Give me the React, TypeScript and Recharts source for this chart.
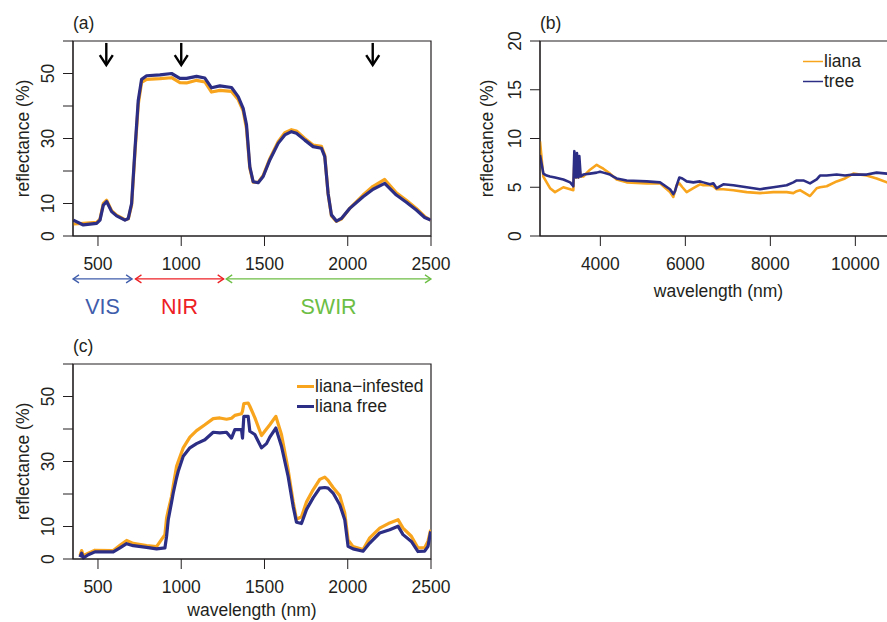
import React from 'react';
import {
  LineChart,
  Line,
  XAxis,
  YAxis,
  ReferenceArea,
  ReferenceLine,
  ReferenceDot,
  Legend,
} from 'recharts';

const FONT = "'Liberation Sans', Arial, Helvetica, sans-serif";
const INK = '#231f20';
const ORANGE = '#f8a51d';
const NAVY = '#2c2d84';
const FS = 17.5;

// (a) canopy spectra 350-2500 nm
const aWavelength = [352, 412, 492, 512, 532, 552, 582, 612, 662, 682, 702, 722, 742, 762, 792, 872, 942, 992, 1032, 1092, 1142, 1182, 1232, 1302, 1342, 1372, 1392, 1412, 1432, 1462, 1492, 1532, 1582, 1622, 1662, 1692, 1742, 1792, 1842, 1862, 1882, 1902, 1932, 1962, 2012, 2092, 2152, 2222, 2292, 2352, 2412, 2462, 2498];
const aLiana = [3.7, 3.9, 4.2, 5.2, 10.0, 11.0, 7.8, 6.4, 5.0, 5.3, 9.5, 25.5, 40.5, 47.3, 48.2, 48.4, 48.7, 47.2, 47.1, 47.9, 47.4, 44.3, 44.8, 44.5, 42.0, 38.5, 33.0, 20.8, 16.6, 16.5, 18.6, 23.8, 29.0, 31.8, 32.7, 32.3, 30.0, 28.0, 27.6, 24.8, 13.0, 6.2, 4.5, 5.2, 8.5, 12.6, 15.3, 17.4, 13.3, 11.0, 8.5, 6.0, 4.9];
const aTree = [4.9, 3.4, 3.9, 4.9, 9.5, 10.6, 7.5, 6.2, 4.9, 5.4, 10.0, 26.5, 41.8, 48.2, 49.3, 49.6, 50.0, 48.5, 48.5, 49.1, 48.6, 45.6, 46.2, 45.7, 42.9, 39.3, 34.2, 21.3, 16.7, 16.4, 18.3, 23.4, 28.5, 31.1, 32.1, 31.6, 29.5, 27.5, 27.0, 24.4, 13.1, 6.5, 4.6, 5.4, 8.5, 12.1, 14.4, 16.2, 12.6, 10.4, 8.0, 5.7, 4.9];
const aMarkedBands = [550, 1000, 2150];
const regionNames = ['VIS', 'NIR', 'SWIR'];
const regionStart = [350, 725, 1270];
const regionEnd = [705, 1255, 2500];
const regionColors = ['#3f5dab', '#ed2024', '#6cbe45'];

// (b) thermal spectra
const bWavelength = [2580, 2659, 2737, 2816, 2933, 3129, 3290, 3364, 3388, 3427, 3450, 3482, 3505, 3537, 3600, 3757, 3914, 3992, 4070, 4227, 4305, 4384, 4620, 5090, 5404, 5639, 5717, 5757, 5796, 5859, 5930, 6031, 6188, 6345, 6424, 6580, 6659, 6737, 6894, 7129, 7443, 7757, 8070, 8384, 8541, 8620, 8698, 8776, 8933, 9090, 9168, 9325, 9560, 9756, 9953, 10266, 10501, 10744, 10900];
const bLiana = [9.7, 6.1, 5.5, 4.9, 4.5, 5.0, 4.8, 4.7, 7.5, 6.0, 7.8, 6.0, 7.0, 6.1, 6.1, 6.8, 7.3, 7.1, 6.9, 6.4, 6.1, 5.8, 5.5, 5.4, 5.4, 4.5, 4.0, 4.6, 5.2, 5.4, 5.0, 4.5, 4.9, 5.3, 5.2, 5.2, 5.1, 4.8, 4.8, 4.7, 4.5, 4.4, 4.5, 4.5, 4.4, 4.6, 4.7, 4.5, 4.1, 4.9, 5.0, 5.1, 5.6, 5.9, 6.4, 6.2, 5.9, 5.5, 5.2];
const bTree = [8.3, 6.4, 6.2, 6.1, 6.0, 5.8, 5.5, 5.1, 8.7, 6.0, 8.5, 6.0, 8.2, 6.1, 6.3, 6.4, 6.5, 6.6, 6.5, 6.3, 6.1, 5.9, 5.7, 5.6, 5.5, 4.8, 4.3, 4.6, 5.2, 6.0, 5.9, 5.6, 5.5, 5.6, 5.5, 5.3, 5.4, 4.9, 5.3, 5.2, 5.0, 4.8, 5.0, 5.2, 5.5, 5.7, 5.7, 5.7, 5.4, 5.8, 6.2, 6.2, 6.3, 6.2, 6.3, 6.3, 6.5, 6.4, 6.4];

// (c) airborne spectra
const cWavelength = [392, 402, 412, 442, 482, 592, 632, 672, 712, 792, 852, 902, 912, 922, 942, 952, 972, 982, 1012, 1052, 1092, 1142, 1192, 1232, 1272, 1302, 1322, 1362, 1368, 1376, 1402, 1412, 1442, 1482, 1512, 1532, 1568, 1602, 1642, 1672, 1692, 1722, 1752, 1792, 1832, 1862, 1882, 1912, 1952, 1982, 2002, 2032, 2092, 2132, 2192, 2252, 2302, 2332, 2382, 2422, 2462, 2482, 2498];
const cInfested = [1.0, 2.6, 1.0, 1.8, 2.7, 2.6, 4.2, 5.7, 4.8, 4.1, 3.8, 7.5, 12.6, 15.0, 19.3, 22.5, 28.5, 30.0, 34.2, 37.5, 39.5, 41.3, 43.2, 43.4, 43.0, 43.3, 44.2, 44.7, 45.5, 47.8, 48.0, 47.0, 43.5, 38.0, 40.0, 41.3, 43.9, 38.3, 27.5, 17.7, 12.2, 13.0, 17.5, 21.3, 24.5, 25.2, 24.2, 22.0, 19.5, 14.2, 5.9, 3.8, 2.9, 6.5, 9.5, 11.1, 12.1, 9.5, 7.0, 3.4, 3.5, 5.5, 9.0];
const cFree = [0.6, 1.8, 0.3, 1.3, 2.2, 2.2, 3.4, 4.7, 4.1, 3.6, 3.1, 3.4, 7.0, 12.1, 17.5, 20.3, 25.0, 27.0, 31.6, 34.2, 35.5, 36.7, 39.0, 38.8, 39.0, 37.2, 39.8, 39.8, 37.2, 43.9, 43.9, 39.3, 38.3, 34.2, 35.5, 37.5, 40.3, 34.7, 25.4, 16.2, 11.3, 10.9, 15.2, 18.8, 21.8, 22.0, 21.8, 20.3, 16.7, 12.1, 3.9, 3.1, 2.4, 4.9, 8.0, 9.0, 10.1, 7.5, 5.4, 2.3, 2.4, 3.9, 8.5];

const vswirTicks = [500, 1000, 1500, 2000, 2500];
const vswirYTicks = [0, 10, 20, 30, 40, 50, 60];
const vswirYLabels = [0, 10, 30, 50];
const tirTicks = [4000, 6000, 8000, 10000];
const tirYTicks = [0, 5, 10, 15, 20];

const toRows = (wl: number[], s1: number[], s2: number[]) =>
  wl.map((w, i) => ({ wl: w, s1: s1[i], s2: s2[i] }));

const aData = toRows(aWavelength, aLiana, aTree);
const bData = toRows(bWavelength, bLiana, bTree);
const cData = toRows(cWavelength, cInfested, cFree);

const tickStyle = { fill: INK, fontSize: FS, fontFamily: FONT };

const yTick = (labels: number[]) => (props: any) => {
  const { x, y, payload } = props;
  if (!labels.includes(payload.value)) return <g />;
  return (
    <text
      x={x}
      y={y}
      transform={`rotate(-90 ${x} ${y})`}
      textAnchor="middle"
      fill={INK}
      fontSize={FS}
      fontFamily={FONT}
    >
      {payload.value}
    </text>
  );
};

const yTitle = (panel: string, gap: number) => (props: any) => {
  const { x, y, width, height } = props.viewBox;
  const left = x + width;
  const cy = y + height / 2;
  return (
    <g fontFamily={FONT} fontSize={FS} fill={INK}>
      <text x={left - gap} y={cy} transform={`rotate(-90 ${left - gap} ${cy})`} textAnchor="middle">
        reflectance (%)
      </text>
      <text x={left} y={y - 12}>{panel}</text>
    </g>
  );
};

const xTitle = (gap: number) => (props: any) => {
  const { x, y, width } = props.viewBox;
  return (
    <text x={x + width / 2} y={y + gap} textAnchor="middle" fontFamily={FONT} fontSize={FS} fill={INK}>
      wavelength (nm)
    </text>
  );
};

const downArrow = (p: any) => {
  const { x1, y1, x2, y2 } = p;
  return (
    <g stroke="#000" strokeWidth={2.4} fill="none">
      <line x1={x1} y1={y1} x2={x2} y2={y2} />
      <path d={`M${x2 - 6.5},${y2 - 10} L${x2},${y2} L${x2 + 6.5},${y2 - 10}`} />
    </g>
  );
};

const rangeArrow = (color: string) => (p: any) => {
  const { x1, y1, x2, y2 } = p;
  return (
    <g stroke={color} strokeWidth={1.3} fill="none">
      <line x1={x1} y1={y1} x2={x2} y2={y2} />
      <path d={`M${x1 + 6},${y1 - 4} L${x1},${y1} L${x1 + 6},${y1 + 4}`} />
      <path d={`M${x2 - 6},${y2 - 4} L${x2},${y2} L${x2 - 6},${y2 + 4}`} />
    </g>
  );
};

const legendRows = (names: string[], colors: string[], lineW: number, len: number) => () => (
  <div style={{ fontFamily: FONT, fontSize: FS, color: INK, lineHeight: '20px' }}>
    {names.map((n, i) => (
      <div key={n} style={{ display: 'flex', alignItems: 'center', height: 20, whiteSpace: 'nowrap' }}>
        <svg width={len} height={20} style={{ marginRight: 1 }}>
          <line x1={0} x2={len} y1={10.5} y2={10.5} stroke={colors[i]} strokeWidth={lineW} />
        </svg>
        <span>{n}</span>
      </div>
    ))}
  </div>
);

const arrowTop = 59.4;
const arrowTip = 52.6;
const regionArrowY = -13.2;
const regionLabelY = -24;

export default function App() {
  return (
    <div style={{ position: 'absolute', left: 0, top: 0, width: 887, height: 622, overflow: 'hidden', background: '#fff' }}>
      {/* (a) */}
      <div style={{ position: 'absolute', left: 0, top: 0 }}>
        <LineChart width={460} height={330} data={aData} margin={{ top: 41, right: 29, bottom: 64, left: 23 }}>
          <XAxis
            dataKey="wl"
            type="number"
            domain={[350, 2500]}
            ticks={vswirTicks}
            interval={0}
            allowDataOverflow
            height={30}
            tickSize={10}
            tickMargin={12}
            tick={tickStyle}
            stroke={INK}
          />
          <YAxis
            type="number"
            domain={[0, 60]}
            ticks={vswirYTicks}
            interval={0}
            width={50}
            tickSize={10}
            tickMargin={9}
            tick={yTick(vswirYLabels)}
            stroke={INK}
            label={yTitle('(a)', 44)}
          />
          <ReferenceArea x1={350} x2={2500} y1={0} y2={60} fill="none" stroke={INK} strokeWidth={1.2} ifOverflow="visible" />
          <Line dataKey="s1" stroke={ORANGE} strokeWidth={3.2} dot={false} isAnimationActive={false} strokeLinejoin="round" />
          <Line dataKey="s2" stroke={NAVY} strokeWidth={3.2} dot={false} isAnimationActive={false} strokeLinejoin="round" />
          {aMarkedBands.map((w) => (
            <ReferenceLine
              key={`arr-${w}`}
              segment={[{ x: w, y: arrowTop }, { x: w, y: arrowTip }]}
              ifOverflow="visible"
              shape={downArrow}
            />
          ))}
          {regionNames.map((n, i) => (
            <ReferenceLine
              key={`reg-${n}`}
              segment={[{ x: regionStart[i], y: regionArrowY }, { x: regionEnd[i], y: regionArrowY }]}
              ifOverflow="visible"
              shape={rangeArrow(regionColors[i])}
            />
          ))}
          {regionNames.map((n, i) => (
            <ReferenceDot
              key={`lab-${n}`}
              x={(regionStart[i] + regionEnd[i]) / 2}
              y={regionLabelY}
              r={0}
              ifOverflow="visible"
              shape={(p: any) => (
                <text x={p.cx} y={p.cy} textAnchor="middle" fontFamily={FONT} fontSize={21.5} fill={regionColors[i]}>
                  {n}
                </text>
              )}
            />
          ))}
        </LineChart>
      </div>

      {/* (b) */}
      <div style={{ position: 'absolute', left: 440, top: 0 }}>
        <LineChart width={470} height={310} data={bData} margin={{ top: 41, right: 13, bottom: 4, left: 50 }}>
          <XAxis
            dataKey="wl"
            type="number"
            domain={[2580, 10980]}
            ticks={tirTicks}
            interval={0}
            allowDataOverflow
            height={70}
            tickSize={10}
            tickMargin={12}
            tick={tickStyle}
            stroke={INK}
            label={xTitle(61)}
          />
          <YAxis
            type="number"
            domain={[0, 20]}
            ticks={tirYTicks}
            interval={0}
            width={50}
            tickSize={10}
            tickMargin={9}
            tick={yTick(tirYTicks)}
            stroke={INK}
            label={yTitle('(b)', 47)}
          />
          <ReferenceArea x1={2580} x2={10980} y1={0} y2={20} fill="none" stroke={INK} strokeWidth={1.2} ifOverflow="visible" />
          <Line dataKey="s1" stroke={ORANGE} strokeWidth={2.6} dot={false} isAnimationActive={false} strokeLinejoin="round" />
          <Line dataKey="s2" stroke={NAVY} strokeWidth={2.6} dot={false} isAnimationActive={false} strokeLinejoin="round" />
          <Legend
            layout="vertical"
            align="center"
            verticalAlign="middle"
            wrapperStyle={{ left: 363, top: 51, width: 'auto' }}
            content={legendRows(['liana', 'tree'], [ORANGE, NAVY], 1.5, 20)}
          />
        </LineChart>
      </div>

      {/* (c) */}
      <div style={{ position: 'absolute', left: 0, top: 320 }}>
        <LineChart width={460} height={302} data={cData} margin={{ top: 44, right: 29, bottom: 0, left: 23 }}>
          <XAxis
            dataKey="wl"
            type="number"
            domain={[350, 2500]}
            ticks={vswirTicks}
            interval={0}
            allowDataOverflow
            height={63}
            tickSize={10}
            tickMargin={12}
            tick={tickStyle}
            stroke={INK}
            label={xTitle(57)}
          />
          <YAxis
            type="number"
            domain={[0, 60]}
            ticks={vswirYTicks}
            interval={0}
            width={50}
            tickSize={10}
            tickMargin={9}
            tick={yTick(vswirYLabels)}
            stroke={INK}
            label={yTitle('(c)', 44)}
          />
          <ReferenceArea x1={350} x2={2500} y1={0} y2={60} fill="none" stroke={INK} strokeWidth={1.2} ifOverflow="visible" />
          <Line dataKey="s1" stroke={ORANGE} strokeWidth={3.2} dot={false} isAnimationActive={false} strokeLinejoin="round" />
          <Line dataKey="s2" stroke={NAVY} strokeWidth={3.2} dot={false} isAnimationActive={false} strokeLinejoin="round" />
          <Legend
            layout="vertical"
            align="center"
            verticalAlign="middle"
            wrapperStyle={{ left: 297, top: 56, width: 'auto' }}
            content={legendRows(['liana\u2212infested', 'liana free'], [ORANGE, NAVY], 3, 17)}
          />
        </LineChart>
      </div>
    </div>
  );
}
